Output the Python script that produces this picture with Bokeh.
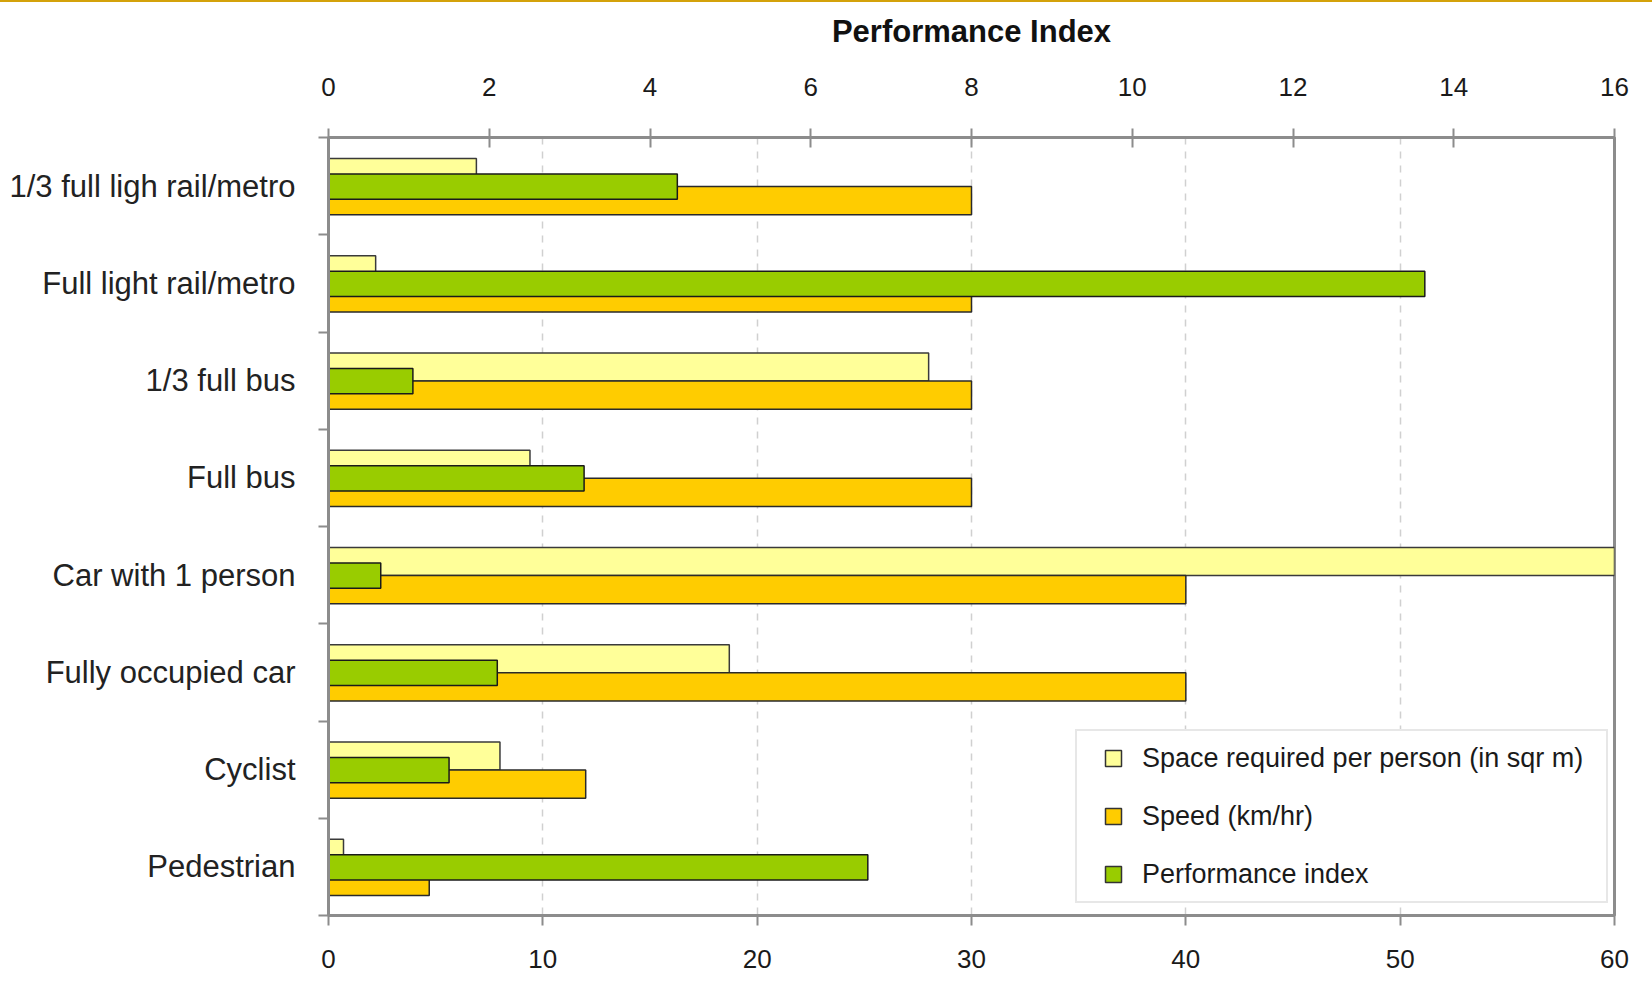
from bokeh.plotting import figure
from bokeh.models import (Range1d, LinearAxis, FixedTicker, SingleIntervalTicker,
                          ColumnDataSource, Legend, LegendItem, Div)
from bokeh.layouts import column
from bokeh.embed import file_html
from bokeh.resources import INLINE

# ---- data ----
categories = ["1/3 full ligh rail/metro", "Full light rail/metro", "1/3 full bus",
              "Full bus", "Car with 1 person", "Fully occupied car", "Cyclist", "Pedestrian"]
space = [6.9, 2.2, 28.0, 9.4, 60.0, 18.7, 8.0, 0.7]
speed = [30, 30, 30, 30, 40, 40, 12, 4.7]
perf = [4.34, 13.64, 1.05, 3.18, 0.65, 2.1, 1.5, 6.71]
bottom_ticks_step = 10
top_ticks_step = 2

FONT = "Liberation Sans"
GRAY = "#8C8C8C"

n = len(categories)
idx = list(range(n))

p = figure(width=1652, height=979, output_backend="svg", toolbar_location=None,
           x_range=Range1d(0, 60), y_range=Range1d(n, 0),
           min_border_left=328, min_border_right=38, min_border_top=135,
           min_border_bottom=66, background_fill_color="white",
           border_fill_color="white")
p.extra_x_ranges = {"pi": Range1d(0, 16)}

src = ColumnDataSource(dict(
    y_space=[i + 0.36 for i in idx], y_speed=[i + 0.65 for i in idx],
    y_perf=[i + 0.505 for i in idx], space=space, speed=speed, perf=perf))

r_space = p.hbar(y="y_space", right="space", left=0, height=0.29, source=src,
                 fill_color="#FFFF99", line_color="#3a3a3a", line_width=1.5)
r_speed = p.hbar(y="y_speed", right="speed", left=0, height=0.29, source=src,
                 fill_color="#FFCC00", line_color="#2a2a2a", line_width=1.5)
r_perf = p.hbar(y="y_perf", right="perf", left=0, height=0.26, source=src,
                x_range_name="pi", fill_color="#99CC00", line_color="#1a1a1a",
                line_width=1.5)

# legend proxies (square markers, hidden in the plot)
l_space = p.scatter(x="space", y="y_space", source=src, marker="square", size=16,
                    fill_color="#FFFF99", line_color="#333333", line_width=1.5, visible=False)
l_speed = p.scatter(x="speed", y="y_speed", source=src, marker="square", size=16,
                    fill_color="#FFCC00", line_color="#333333", line_width=1.5, visible=False)
l_perf = p.scatter(x="perf", y="y_perf", source=src, x_range_name="pi", marker="square",
                   size=16, fill_color="#99CC00", line_color="#333333", line_width=1.5,
                   visible=False)

legend = Legend(items=[
    LegendItem(label="Space required per person (in sqr m)", renderers=[l_space]),
    LegendItem(label="Speed (km/hr)", renderers=[l_speed]),
    LegendItem(label="Performance index", renderers=[l_perf]),
], location=(747, 12), margin=0, padding=7, glyph_width=58, glyph_height=40,
    label_height=40, label_width=457, label_standoff=0, spacing=18,
    label_text_font=FONT, label_text_font_size="27px", label_text_color="#1a1a1a",
    border_line_color="#CFCFCF", border_line_width=2, background_fill_color="white",
    background_fill_alpha=1.0)
p.add_layout(legend, "center")

# bottom axis
xa = p.xaxis[0]
xa.ticker = SingleIntervalTicker(interval=bottom_ticks_step, num_minor_ticks=0)
xa.axis_line_color = GRAY
xa.axis_line_width = 3
xa.major_tick_line_color = GRAY
xa.major_tick_line_width = 2
xa.major_tick_in = 0
xa.major_tick_out = 10
xa.minor_tick_line_color = None
xa.major_label_standoff = 24
xa.major_label_text_font = FONT
xa.major_label_text_font_size = "26px"
xa.major_label_text_color = "#1a1a1a"

# top axis
ta = LinearAxis(x_range_name="pi",
                ticker=SingleIntervalTicker(interval=top_ticks_step, num_minor_ticks=0),
                axis_label="Performance Index")
ta.axis_line_color = GRAY
ta.axis_line_width = 3
ta.major_tick_line_color = GRAY
ta.major_tick_line_width = 2
ta.major_tick_in = 10
ta.major_tick_out = 9
ta.minor_tick_line_color = None
ta.major_label_standoff = 33
ta.major_label_text_font = FONT
ta.major_label_text_font_size = "26px"
ta.major_label_text_color = "#1a1a1a"
ta.axis_label_text_font = FONT
ta.axis_label_text_font_size = "31px"
ta.axis_label_text_font_style = "bold"
ta.axis_label_text_color = "#111111"
ta.axis_label_standoff = 26
p.add_layout(ta, "above")

# left axis: labels at band centres, ticks at band boundaries
ya = p.yaxis[0]
ya.ticker = FixedTicker(ticks=[i + 0.5 for i in idx], minor_ticks=list(range(n + 1)))
ya.major_label_overrides = {i + 0.5: c for i, c in zip(idx, categories)}
ya.major_tick_in = 0
ya.major_tick_out = 0
ya.minor_tick_in = 0
ya.minor_tick_out = 10
ya.minor_tick_line_color = GRAY
ya.minor_tick_line_width = 2
ya.axis_line_color = GRAY
ya.axis_line_width = 3
ya.major_label_standoff = 23
ya.major_label_text_font = FONT
ya.major_label_text_font_size = "31px"
ya.major_label_text_color = "#222222"

# grid
p.xgrid.grid_line_color = "#D0D0D0"
p.xgrid.grid_line_dash = "7 7"
p.xgrid.grid_line_width = 1.5
p.ygrid.visible = False
p.outline_line_color = GRAY
p.outline_line_width = 3

top_line = Div(text="", width=1652, height=2, margin=0,
               styles={"background-color": "#D4A20A"})
layout = column(top_line, p, spacing=0)

open("out.html", "w").write(file_html(layout, INLINE))
